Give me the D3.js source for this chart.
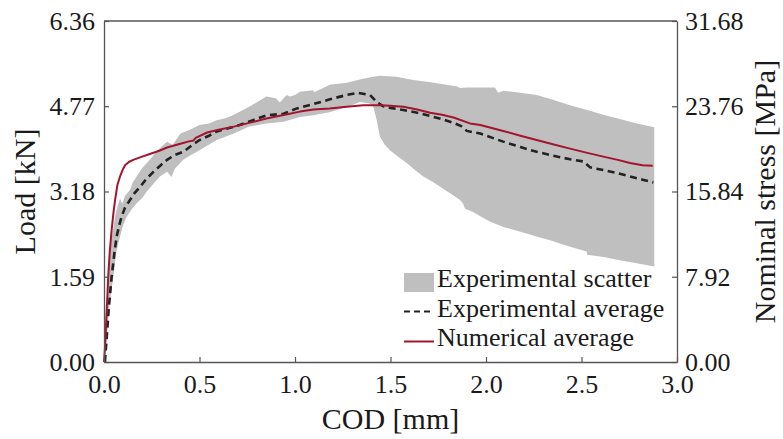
<!DOCTYPE html>
<html>
<head>
<meta charset="utf-8">
<script src="https://cdn.jsdelivr.net/npm/d3@7"></script>
<style>
  html, body { margin: 0; padding: 0; background: #fff; }
  svg text { font-family: "Liberation Serif", "DejaVu Serif", serif; fill: #1a1a1a; }
</style>
</head>
<body>
<svg id="chart" width="783" height="439"></svg>
<script>
// ---------------- DATA ----------------
const xTicks = [0.0, 0.5, 1.0, 1.5, 2.0, 2.5, 3.0];
const loadTicks = [0.00, 1.59, 3.18, 4.77, 6.36];
const stressTicks = [0.00, 7.92, 15.84, 23.76, 31.68];

// Experimental scatter band: upper edge
const bandUpperCod  = [0,0.012,0.025,0.04,0.06,0.075,0.084,0.095,0.11,0.136,0.15,0.171,0.2,0.24,0.28,0.33,0.36,0.40,0.45,0.5,0.55,0.59,0.64,0.68,0.76,0.85,0.9,0.92,0.956,0.974,1.0,1.026,1.096,1.10,1.183,1.27,1.35,1.41,1.445,1.53,1.62,1.70,1.794,1.85,1.864,1.90,1.97,2.047,2.064,2.09,2.18,2.265,2.35,2.44,2.53,2.614,2.70,2.79,2.881];
const bandUpperLoad = [0,1.0,1.7,2.3,2.75,2.95,3.05,2.95,3.1,3.21,3.35,3.46,3.62,3.77,3.95,4.11,4.05,4.26,4.33,4.42,4.45,4.51,4.55,4.61,4.76,4.95,4.92,4.84,4.98,4.95,4.98,5.04,5.07,5.03,5.17,5.21,5.28,5.32,5.34,5.32,5.26,5.22,5.17,5.14,5.11,5.12,5.12,5.12,5.02,5.06,5.02,4.98,4.89,4.79,4.70,4.61,4.53,4.45,4.38];
// Experimental scatter band: lower edge
const bandLowerCod  = [0,0.015,0.03,0.049,0.065,0.084,0.1,0.119,0.145,0.171,0.2,0.224,0.26,0.293,0.33,0.354,0.37,0.415,0.46,0.50,0.59,0.68,0.76,0.85,0.94,1.026,1.096,1.18,1.27,1.34,1.39,1.41,1.428,1.445,1.47,1.497,1.54,1.585,1.628,1.672,1.72,1.76,1.81,1.864,1.88,1.89,1.93,1.97,2.02,2.09,2.18,2.265,2.335,2.44,2.527,2.53,2.614,2.70,2.79,2.881];
const bandLowerLoad = [0,0.5,1.1,1.59,2.05,2.34,2.55,2.71,2.85,2.96,3.06,3.18,3.33,3.46,3.55,3.45,3.6,3.77,3.87,3.95,4.14,4.26,4.39,4.45,4.48,4.57,4.60,4.66,4.75,4.85,4.82,4.76,4.51,4.20,4.05,3.95,3.83,3.71,3.58,3.46,3.36,3.27,3.15,3.02,2.95,2.86,2.80,2.72,2.62,2.52,2.43,2.34,2.27,2.15,2.06,2.0,1.96,1.90,1.84,1.78];

// Experimental average
const expCod  = [0.005,0.015,0.025,0.04,0.055,0.066,0.08,0.092,0.11,0.136,0.16,0.19,0.22,0.26,0.3,0.33,0.37,0.415,0.46,0.5,0.55,0.59,0.65,0.71,0.78,0.85,0.94,1.01,1.096,1.183,1.27,1.33,1.393,1.428,1.462,1.5,1.567,1.64,1.707,1.77,1.83,1.87,1.90,1.97,2.09,2.18,2.265,2.35,2.44,2.51,2.545,2.614,2.69,2.754,2.82,2.876];
const expLoad = [0,0.5,1.0,1.59,2.05,2.34,2.55,2.71,2.88,3.02,3.15,3.27,3.41,3.55,3.68,3.77,3.86,3.92,4.04,4.14,4.22,4.30,4.36,4.42,4.51,4.60,4.63,4.73,4.81,4.90,4.98,5.02,4.98,4.85,4.77,4.74,4.70,4.65,4.59,4.53,4.46,4.40,4.31,4.26,4.11,4.01,3.92,3.85,3.78,3.74,3.63,3.58,3.52,3.46,3.40,3.35];

// Numerical average
const numCod  = [0,0.006,0.012,0.018,0.022,0.03,0.04,0.05,0.058,0.07,0.084,0.1,0.11,0.13,0.153,0.2,0.24,0.29,0.33,0.4,0.44,0.468,0.48,0.54,0.6,0.68,0.76,0.85,0.96,1.026,1.096,1.18,1.27,1.358,1.445,1.5,1.567,1.64,1.707,1.77,1.83,1.916,1.97,2.09,2.18,2.265,2.35,2.44,2.53,2.614,2.69,2.754,2.82,2.873];
const numLoad = [0,0.3,0.8,1.25,1.59,2.05,2.46,2.8,3.02,3.3,3.46,3.6,3.67,3.73,3.77,3.83,3.88,3.94,4.00,4.07,4.11,4.13,4.18,4.28,4.33,4.39,4.46,4.54,4.62,4.67,4.71,4.73,4.76,4.79,4.79,4.78,4.76,4.71,4.65,4.61,4.56,4.45,4.42,4.31,4.22,4.14,4.06,3.98,3.90,3.83,3.77,3.71,3.67,3.66];

const legendLabels = ["Experimental scatter", "Experimental average", "Numerical average"];

// ---------------- CHART ----------------
const svg = d3.select("#chart");
const L = 104, R = 677, T = 21, B = 362;
const RED = "#a2142f", GREY = "#bfbfbf", AX = "#555";
const FONT = "'Liberation Serif', 'DejaVu Serif', serif";

const x = d3.scaleLinear().domain([0, 3]).range([L, R]);
const y = d3.scaleLinear().domain([0, 6.36]).range([B, T]);
const yR = d3.scaleLinear().domain([0, 31.68]).range([B, T]);

const zip = (a, b) => a.map((v, i) => [v, b[i]]);
const line = d3.line().x(d => x(d[0])).y(d => y(d[1]));

// band polygon: upper edge then lower edge reversed
const bandPts = zip(bandUpperCod, bandUpperLoad).concat(zip(bandLowerCod, bandLowerLoad).reverse());
svg.append("path").attr("d", line(bandPts) + "Z").attr("fill", GREY).attr("stroke", "none");

svg.append("path").attr("d", line(zip(expCod, expLoad)))
  .attr("fill", "none").attr("stroke", "#222").attr("stroke-width", 2.6)
  .attr("stroke-dasharray", "7,4.5");

svg.append("path").attr("d", line(zip(numCod, numLoad)))
  .attr("fill", "none").attr("stroke", RED).attr("stroke-width", 2)
  .attr("stroke-linejoin", "round");

// axes
function styleAxis(g) {
  g.selectAll(".domain").attr("stroke", AX).attr("stroke-width", 1.3);
  g.selectAll(".tick line").attr("stroke", AX).attr("stroke-width", 1.2);
  g.selectAll(".tick text").attr("font-size", 26).style("font-family", FONT).attr("fill", "#1a1a1a");
}
svg.append("g").attr("transform", `translate(0,${B})`)
  .call(d3.axisBottom(x).tickValues(xTicks).tickFormat(d3.format(".1f"))
    .tickSizeInner(-5).tickSizeOuter(0).tickPadding(13))
  .call(styleAxis);
svg.append("g").attr("transform", `translate(${L},0)`)
  .call(d3.axisLeft(y).tickValues(loadTicks).tickFormat(d3.format(".2f"))
    .tickSizeInner(-5).tickSizeOuter(0).tickPadding(9))
  .call(styleAxis);
svg.append("g").attr("transform", `translate(${R},0)`)
  .call(d3.axisRight(yR).tickValues(stressTicks).tickFormat(d3.format(".2f"))
    .tickSizeInner(-5).tickSizeOuter(0).tickPadding(8))
  .call(styleAxis);
// top spine
svg.append("line").attr("x1", L).attr("x2", R).attr("y1", T).attr("y2", T)
  .attr("stroke", AX).attr("stroke-width", 1.3);

// axis titles
svg.append("text").attr("x", (L + R) / 2).attr("y", 429).attr("text-anchor", "middle")
  .attr("font-size", 30).style("font-family", FONT).text("COD [mm]");
svg.append("text").attr("transform", `translate(35,${(T + B) / 2}) rotate(-90)`)
  .attr("text-anchor", "middle").attr("font-size", 30).style("font-family", FONT).text("Load [kN]");
svg.append("text").attr("transform", `translate(775,${(T + B) / 2}) rotate(-90)`)
  .attr("text-anchor", "middle").attr("font-size", 30).style("font-family", FONT).text("Nominal stress [MPa]");

// legend
const lg = svg.append("g");
lg.append("rect").attr("x", 404).attr("y", 273).attr("width", 30).attr("height", 19).attr("fill", GREY);
lg.append("line").attr("x1", 404).attr("x2", 434).attr("y1", 311.5).attr("y2", 311.5)
  .attr("stroke", "#222").attr("stroke-width", 2.2).attr("stroke-dasharray", "6,4");
lg.append("line").attr("x1", 404).attr("x2", 434).attr("y1", 341.5).attr("y2", 341.5)
  .attr("stroke", RED).attr("stroke-width", 2);
const baselines = [287, 316.5, 346];
legendLabels.forEach((t, i) => {
  lg.append("text").attr("x", 437).attr("y", baselines[i]).attr("font-size", 26)
    .style("font-family", FONT).text(t);
});
</script>
</body>
</html>
